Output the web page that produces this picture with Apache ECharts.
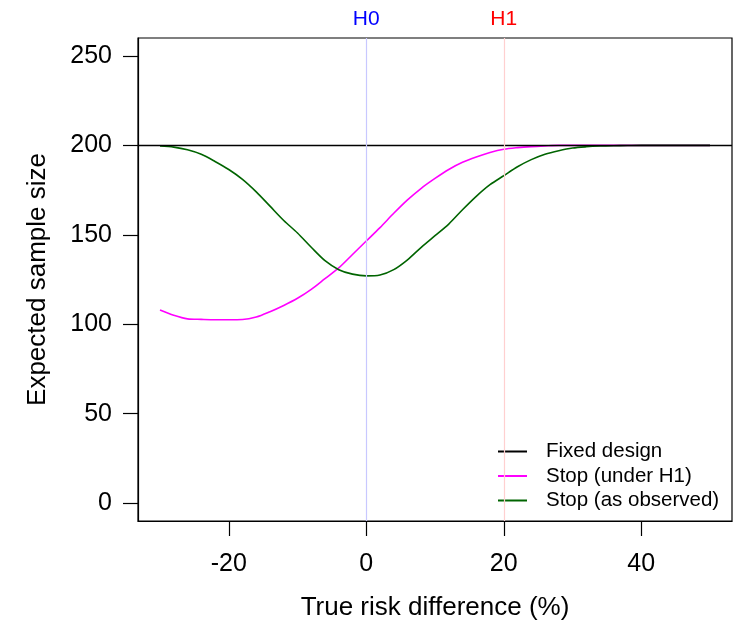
<!DOCTYPE html>
<html><head><meta charset="utf-8">
<script src="https://cdn.jsdelivr.net/npm/echarts@6/dist/echarts.min.js"></script>
<style>html,body{margin:0;padding:0;background:#fff}#c{width:748px;height:626px}</style>
</head><body><div id="c"></div>
<script>
const xTicks = [-20, 0, 20, 40];
const yTicks = [0, 50, 100, 150, 200, 250];
const fixedN = 200;
const hyp = [{name: 'H0', x: 0}, {name: 'H1', x: 20}];
const xs = [-30,-28,-26,-24,-22,-20,-18,-16,-14,-12,-10,-8,-6,-4,-2,0,2,4,6,8,10,12,14,16,18,20,22,24,26,28,30,32,34,36,38,40,45,50];
const stopH1 = [108,105,103,102.7,102.5,102.5,102.6,104,107,110.5,114.5,119.5,125.5,131.5,139,146.5,154,162,169.5,176,181.5,186.5,190.5,193.5,196,197.8,198.7,199.3,199.7,200,200,200,200,200,200,200,200,200];
const stopObs = [199.6,199,197.5,195,191,186.5,181,174,166,158,151,143,135.5,130.5,128,127,127.5,130.5,136,143,149.5,156,164,171.5,178,183,188,192,195,197,198.5,199.2,199.6,199.8,199.9,200,200,200];

const pair = (a) => xs.map((x, i) => [x, a[i]]);
const font = 'Liberation Sans, Arial, sans-serif';
const chart = echarts.init(document.getElementById('c'));
chart.setOption({
  backgroundColor: '#fff',
  animation: false,
  textStyle: {fontFamily: font},
  grid: {left: 138, right: 16, top: 38, bottom: 104, show: true, borderColor: '#000', borderWidth: 1.2},
  xAxis: {
    type: 'value', min: -33.2, max: 53.2,
    name: 'True risk difference (%)', nameLocation: 'middle', nameGap: 74,
    nameTextStyle: {fontSize: 26, color: '#000', fontFamily: font},
    axisLine: {show: true, onZero: false, lineStyle: {color: '#000', width: 1.2}},
    axisTick: {show: true, length: 15, lineStyle: {color: '#000', width: 1.2}, customValues: xTicks},
    axisLabel: {fontSize: 25, color: '#000', margin: 31, customValues: xTicks, fontFamily: font},
    splitLine: {show: false}
  },
  yAxis: {
    type: 'value', min: -10, max: 260,
    name: 'Expected sample size', nameLocation: 'middle', nameGap: 87, nameRotate: 90,
    nameTextStyle: {fontSize: 26, color: '#000', fontFamily: font},
    axisLine: {show: true, onZero: false, lineStyle: {color: '#000', width: 1.2}},
    axisTick: {show: true, length: 15, lineStyle: {color: '#000', width: 1.2}, customValues: yTicks},
    axisLabel: {fontSize: 25, color: '#000', margin: 26, customValues: yTicks, fontFamily: font},
    splitLine: {show: false}
  },
  legend: {
    orient: 'vertical', left: 493, top: 436, itemGap: 3.5, itemWidth: 29, itemHeight: 2,
    icon: 'rect',
    textStyle: {fontSize: 20.5, lineHeight: 20, color: '#000', fontFamily: font, padding: [0, 0, 0, 14]},
    data: ['Fixed design', 'Stop (under H1)', 'Stop (as observed)']
  },
  series: [
    {
      name: 'Fixed design', type: 'line', data: [], symbol: 'none',
      color: '#000', lineStyle: {color: '#000', width: 1.4},
      markLine: {
        silent: true, symbol: 'none', label: {show: false},
        lineStyle: {color: '#000', width: 1.4, type: 'solid'},
        data: [{yAxis: fixedN}]
      },
      z: 5
    },
    {
      name: 'Stop (under H1)', type: 'line', data: pair(stopH1), symbol: 'none', smooth: 0.3,
      color: '#ff00ff', lineStyle: {color: '#ff00ff', width: 1.6},
      markLine: {
        silent: true, symbol: 'none',
        data: hyp.map((h, i) => ({
          xAxis: h.x,
          lineStyle: {color: i === 0 ? '#c8c8ff' : '#ffd0d0', width: 1.2, type: 'solid'},
          label: {show: true, position: 'end', formatter: h.name, fontSize: 21, distance: 8,
                  color: i === 0 ? '#0000ff' : '#ff0000', fontFamily: font}
        }))
      },
      z: 3
    },
    {
      name: 'Stop (as observed)', type: 'line', data: pair(stopObs), symbol: 'none', smooth: 0.3,
      color: '#006400', lineStyle: {color: '#006400', width: 1.6},
      z: 4
    }
  ]
});
</script></body></html>
